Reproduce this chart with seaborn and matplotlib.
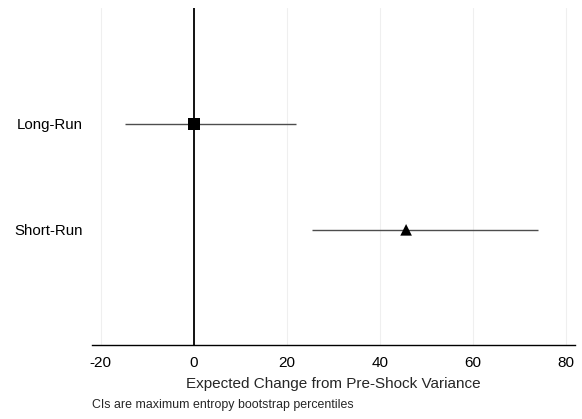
import matplotlib
matplotlib.use("Agg")
import matplotlib.pyplot as plt
import seaborn as sns
import pandas as pd

horizons = ["Short-Run", "Long-Run"]
estimates = [45.6, 0.0]
ci_low = [25.4, -14.9]
ci_high = [74.0, 21.9]
marker_shapes = ["^", "s"]
x_ticks = [-20, 0, 20, 40, 60, 80]

df = pd.DataFrame({
    "horizon": horizons,
    "estimate": estimates,
    "lo": ci_low,
    "hi": ci_high,
    "pos": [1, 2],
})

sns.set_theme(style="whitegrid")
plt.rcParams["font.family"] = ["Liberation Sans", "DejaVu Sans"]

fig = plt.figure(figsize=(5.82, 4.19), dpi=100)
ax = fig.add_axes([92 / 582, 1 - 345 / 419, (575 - 92) / 582, (345 - 8) / 419])

# confidence intervals
ax.hlines(df["pos"], df["lo"], df["hi"], color="#4d4d4d", linewidth=1.0, zorder=2)
# zero reference line
ax.axvline(0, color="black", linewidth=1.3, zorder=3)

sns.scatterplot(data=df, x="estimate", y="pos", style="horizon",
                markers=dict(zip(horizons, marker_shapes)), color="black",
                s=70, edgecolor="black", linewidth=0, legend=False, ax=ax, zorder=4)

ax.set_xlim(-21.9, 81.9)
ax.set_ylim(-0.085, 3.09)
ax.set_xticks(x_ticks)
ax.set_xticklabels([str(t) for t in x_ticks], fontsize=11)
ax.set_yticks(df["pos"])
ax.set_yticklabels(df["horizon"], fontsize=10.8)
ax.grid(axis="y", visible=False)
ax.grid(axis="x", color="#efefef", linewidth=0.8)
for side in ["top", "right", "left"]:
    ax.spines[side].set_visible(False)
ax.spines["bottom"].set_color("black")
ax.spines["bottom"].set_linewidth(1.0)
ax.tick_params(axis="x", length=0, pad=8, colors="black")
ax.tick_params(axis="y", length=0, pad=6.5, colors="black")
ax.set_xlabel("Expected Change from Pre-Shock Variance", fontsize=11, labelpad=5)
ax.set_ylabel("")

fig.text(92 / 582, 1 - 405 / 419, "CIs are maximum entropy bootstrap percentiles",
         fontsize=8.9, va="center", ha="left")

fig.savefig("out.png", dpi=100)
